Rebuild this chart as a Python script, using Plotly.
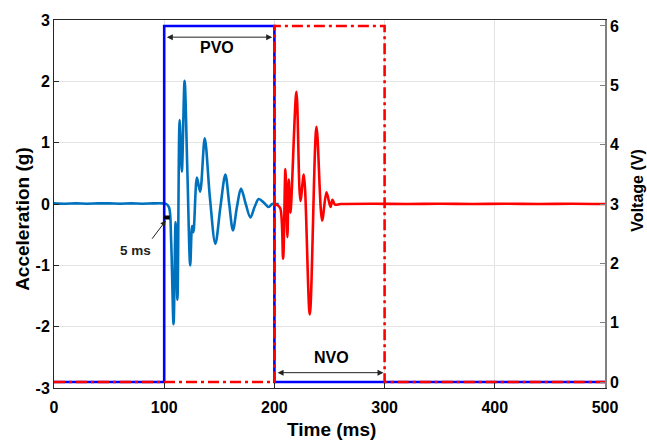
import plotly.graph_objects as go

# ---------------- data ----------------
# Acceleration (g) during PVO window (blue trace)
pvo_time = [0, 10, 20, 30, 40, 50, 60, 70, 80, 90, 98, 102, 104.5, 106.3, 108.5,
            110.3, 112.0, 114.0, 116.0, 118.5, 121.0, 123.6, 125.3, 126.5, 129.7, 132.6,
            136.8, 141.5, 146.4, 151.0, 155.5, 159.0, 162.4, 166.0, 169.7, 174.0, 178.2,
            182.0, 185.8, 190.5, 194.8, 198.0, 201.0, 204.0]
pvo_acc = [0.01, 0.005, 0.01, 0.005, 0.01, 0.01, 0.005, 0.01, 0.005, 0.01, 0.01, 0.0, -0.06, -0.6, -1.96,
           -0.3, -1.56, 1.37, 0.53, 2.01, 0.55, -1.0, -0.36, -0.46, 0.43, 0.2,
           1.07, 0.1, -0.65, -0.05, 0.48, 0.0, -0.43, -0.05, 0.25, 0.0, -0.22,
           -0.05, 0.08, 0.02, -0.05, 0.0, 0.0, 0.0]

# Acceleration (g) during NVO window (red trace)
nvo_time = [199, 203, 205.5, 207.9, 210.0, 211.8, 213.0, 214.5, 220.0, 223.6, 226.7,
            232.1, 238.2, 243.3, 247.3, 250.9, 252.7, 255.0, 260, 290, 320, 350,
            380, 410, 440, 470, 500]
nvo_acc = [0.0, -0.02, -0.08, -0.89, 0.57, -0.54, 0.40, -0.14, 1.83, 0.05, 0.48,
           -1.80, 1.26, -0.27, 0.19, -0.05, 0.07, -0.01, 0.0, 0.005, 0.0, 0.005,
           0.0, 0.005, 0.0, 0.005, 0.0]

# Drive voltages (V)
pvo_v_time = [0, 100, 100, 200, 200, 500]
pvo_v = [0, 0, 6, 6, 0, 0]
nvo_v_time = [0, 200, 200, 300, 300, 500]
nvo_v = [0, 0, 6, 6, 0, 0]

x_ticks = [0, 100, 200, 300, 400, 500]
y_ticks = [-3, -2, -1, 0, 1, 2, 3]
y2_ticks = [0, 1, 2, 3, 4, 5, 6]

FONT = "Arial, Liberation Sans, sans-serif"


def bold_labels(vals):
    return ["<b>%s</b>" % str(v).replace("\u2212", "-") for v in vals]


fig = go.Figure()
fig.add_trace(go.Scatter(x=pvo_time, y=pvo_acc, mode="lines",
                         line=dict(color="#0072BD", width=2.6, shape="spline", smoothing=0.9),
                         showlegend=False))
fig.add_trace(go.Scatter(x=nvo_time, y=nvo_acc, mode="lines",
                         line=dict(color="#FF0000", width=2.6, shape="spline", smoothing=0.9),
                         showlegend=False))
fig.add_trace(go.Scatter(x=pvo_v_time, y=pvo_v, mode="lines", yaxis="y2",
                         line=dict(color="#0000FF", width=2.6), showlegend=False))
fig.add_trace(go.Scatter(x=nvo_v_time, y=nvo_v, mode="lines", yaxis="y2",
                         line=dict(color="#FF0000", width=2.6, dash="11px,4px,3px,4px"),
                         showlegend=False))

axis_common = dict(showline=True, linecolor="#262626", linewidth=1,
                   ticks="inside", ticklen=5, tickcolor="#262626",
                   tickfont=dict(family=FONT, size=16, color="#000000"),
                   showgrid=True, gridcolor="#e3e3e3", gridwidth=1, zeroline=False)

fig.update_layout(
    width=647, height=441,
    margin=dict(l=54, r=42, t=16, b=53),
    plot_bgcolor="white", paper_bgcolor="white",
    xaxis=dict(range=[0, 500], tickvals=x_ticks, ticktext=bold_labels(x_ticks),
               mirror=True, ticklabelstandoff=5, **axis_common),
    yaxis=dict(range=[-3, 3], tickvals=y_ticks, ticktext=bold_labels(y_ticks), **axis_common),
    yaxis2=dict(range=[-0.1, 6.1], tickvals=y2_ticks, ticktext=bold_labels(y2_ticks),
                overlaying="y", side="right",
                showline=True, linecolor="#808080", linewidth=1.5,
                ticks="inside", ticklen=5, tickcolor="#808080",
                tickfont=dict(family=FONT, size=16, color="#000000"),
                showgrid=False, zeroline=False),
    font=dict(family=FONT, color="#000000"),
)

annotations = [
    # axis titles
    dict(text="<b>Time (ms)</b>", xref="paper", yref="paper", x=0.503, y=-0.113,
         yanchor="middle", xanchor="center", showarrow=False,
         font=dict(family=FONT, size=19, color="#000")),
    dict(text="<b>Acceleration (g)</b>", xref="paper", yref="paper", x=-0.056, y=0.46,
         textangle=-90, xanchor="center", yanchor="middle", showarrow=False,
         font=dict(family=FONT, size=19, color="#000")),
    dict(text="<b>Voltage (V)</b>", xref="paper", yref="paper", x=1.059, y=0.535,
         textangle=-90, xanchor="center", yanchor="middle", showarrow=False,
         font=dict(family=FONT, size=16, color="#000")),
    # PVO / NVO labels
    dict(text="<b>PVO</b>", x=148, y=2.55, xref="x", yref="y", showarrow=False,
         font=dict(family=FONT, size=16, color="#000")),
    dict(text="<b>NVO</b>", x=252, y=-2.51, xref="x", yref="y", showarrow=False,
         font=dict(family=FONT, size=16, color="#000")),
    # double arrows
    dict(text="", x=198, y=2.72, ax=101, ay=2.72, xref="x", yref="y", axref="x", ayref="y",
         showarrow=True, arrowhead=2, startarrowhead=2, arrowside="end+start",
         arrowwidth=1, arrowsize=1.2, startarrowsize=1.2, arrowcolor="#222", standoff=0, startstandoff=0),
    dict(text="", x=299, y=-2.75, ax=201.5, ay=-2.75, xref="x", yref="y", axref="x", ayref="y",
         showarrow=True, arrowhead=2, startarrowhead=2, arrowside="end+start",
         arrowwidth=1, arrowsize=1.2, startarrowsize=1.2, arrowcolor="#222", standoff=0, startstandoff=0),
    # 5 ms marker
    dict(text="", x=101.5, y=-0.27, ax=88, ay=-0.59, xref="x", yref="y", axref="x", ayref="y",
         showarrow=True, arrowhead=2, arrowwidth=1, arrowsize=1.1, arrowcolor="#222", standoff=0),
    dict(text="<b>5 ms</b>", x=73.6, y=-0.75, xref="x", yref="y", showarrow=False,
         font=dict(family=FONT, size=13.5, color="#222")),
]
fig.update_layout(annotations=annotations)

fig.add_shape(type="line", x0=100, x1=105, y0=-0.22, y1=-0.22, xref="x", yref="y",
              line=dict(color="#000000", width=4))

fig.write_html("out.html")
